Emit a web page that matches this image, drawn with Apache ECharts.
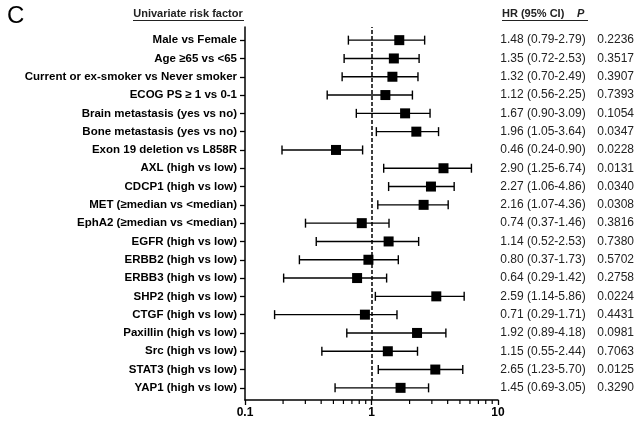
<!DOCTYPE html>
<html>
<head>
<meta charset="utf-8">
<script src="https://cdn.jsdelivr.net/npm/echarts@6/dist/echarts.min.js"></script>
<style>html,body{margin:0;padding:0;background:#fff}#c{width:637px;height:424px}</style>
</head>
<body>
<div id="c"></div>
<script>
const labels = ["Male vs Female","Age \u226565 vs <65","Current or ex-smoker vs Never smoker","ECOG PS \u2265 1 vs 0-1","Brain metastasis (yes vs no)","Bone metastasis (yes vs no)","Exon 19 deletion vs L858R","AXL (high vs low)","CDCP1 (high vs low)","MET (\u2265median vs <median)","EphA2 (\u2265median vs <median)","EGFR (high vs low)","ERBB2 (high vs low)","ERBB3 (high vs low)","SHP2 (high vs low)","CTGF (high vs low)","Paxillin (high vs low)","Src (high vs low)","STAT3 (high vs low)","YAP1 (high vs low)"];
const hrText = ["1.48 (0.79-2.79)","1.35 (0.72-2.53)","1.32 (0.70-2.49)","1.12 (0.56-2.25)","1.67 (0.90-3.09)","1.96 (1.05-3.64)","0.46 (0.24-0.90)","2.90 (1.25-6.74)","2.27 (1.06-4.86)","2.16 (1.07-4.36)","0.74 (0.37-1.46)","1.14 (0.52-2.53)","0.80 (0.37-1.73)","0.64 (0.29-1.42)","2.59 (1.14-5.86)","0.71 (0.29-1.71)","1.92 (0.89-4.18)","1.15 (0.55-2.44)","2.65 (1.23-5.70)","1.45 (0.69-3.05)"];
const pText = ["0.2236","0.3517","0.3907","0.7393","0.1054","0.0347","0.0228","0.0131","0.0340","0.0308","0.3816","0.7380","0.5702","0.2758","0.0224","0.4431","0.0981","0.7063","0.0125","0.3290"];
// plotted positions as drawn in the figure
const hrPlot = [1.69,1.53,1.49,1.31,1.88,2.31,0.53,3.80,3.02,2.64,0.85,1.39,0.96,0.78,3.33,0.90,2.34,1.37,3.27,1.73];
const ciLow  = [0.665,0.615,0.593,0.451,0.769,1.11,0.197,1.27,1.39,1.14,0.303,0.369,0.271,0.203,1.09,0.172,0.646,0.409,1.15,0.521];
const ciHigh = [2.69,2.43,2.38,2.15,2.97,3.47,0.863,6.34,4.62,4.14,1.40,2.41,1.66,1.34,5.55,1.62,3.97,2.36,5.41,2.89];
const minorTicks = [0.2,0.3,0.4,0.5,0.6,0.7,0.8,0.9,2,3,4,5,6,7,8,9];
const xTickLabels = {0.1:"0.1",1:"1",10:"10"};

const chart = echarts.init(document.getElementById('c'));
const FONT = '"Liberation Sans", Arial, sans-serif';
const rows = labels.map((l,i)=>[ciLow[i], ciHigh[i], hrPlot[i], i]);

chart.setOption({
  animation:false,
  backgroundColor:'#fff',
  grid:[
    {left:245, width:253, top:27, bottom:24},
    {left:245, width:253, top:31, height:366}
  ],
  xAxis:[
    {gridIndex:0, type:'log', logBase:10, min:0.1, max:10, interval:1,
     axisLine:{lineStyle:{color:'#000', width:1.5}},
     axisTick:{show:true, length:5, lineStyle:{color:'#000', width:1.3}},
     axisLabel:{margin:7, color:'#000', fontWeight:'bold', fontSize:12, fontFamily:FONT,
       formatter:v=>xTickLabels[+v.toPrecision(3)] || ''},
     splitLine:{show:false}},
    {gridIndex:1, type:'log', logBase:10, min:0.1, max:10, show:false}
  ],
  yAxis:[
    {gridIndex:0, type:'value', min:0, max:1, axisLine:{show:true, lineStyle:{color:'#000', width:1.5}},
     axisTick:{show:false}, axisLabel:{show:false}, splitLine:{show:false}},
    {gridIndex:1, type:'category', data:labels, inverse:true,
     axisLine:{show:false},
     axisTick:{show:true, alignWithLabel:true, length:5, lineStyle:{color:'#000', width:1.3}},
     axisLabel:{margin:8, color:'#000', fontWeight:'bold', fontSize:11.5, fontFamily:FONT}},
    {gridIndex:1, type:'category', data:hrText, inverse:true, position:'right', offset:0,
     axisLine:{show:false}, axisTick:{show:false},
     axisLabel:{margin:4, color:'#222', fontSize:12, fontFamily:FONT}},
    {gridIndex:1, type:'category', data:pText, inverse:true, position:'right', offset:97,
     axisLine:{show:false}, axisTick:{show:false},
     axisLabel:{margin:4, color:'#222', fontSize:12, fontFamily:FONT}}
  ],
  series:[
    {type:'custom', xAxisIndex:0, yAxisIndex:0, clip:false, silent:true,
     data:minorTicks.map(v=>[v]),
     encode:{x:0},
     renderItem:(params, api)=>{
       const cs = params.coordSys;
       const x = api.coord([api.value(0), 0])[0];
       const y0 = cs.y + cs.height;
       return {type:'line', shape:{x1:x, y1:y0, x2:x, y2:y0+4}, style:{stroke:'#000', lineWidth:1.2}};
     },
     markLine:{silent:true, symbol:'none', label:{show:false},
       lineStyle:{type:[4,2], color:'#000', width:1.5},
       data:[{xAxis:1}]}
    },
    {type:'custom', xAxisIndex:1, yAxisIndex:1, clip:false, silent:true,
     data:rows, encode:{x:[0,1,2], y:3},
     renderItem:(params, api)=>{
       const r = api.value(3);
       const pl = api.coord([api.value(0), r]);
       const ph = api.coord([api.value(1), r]);
       const pm = api.coord([api.value(2), r]);
       const y = pl[1];
       const st = {stroke:'#000', lineWidth:1.4};
       return {type:'group', children:[
         {type:'line', shape:{x1:pl[0], y1:y, x2:ph[0], y2:y}, style:st},
         {type:'line', shape:{x1:pl[0], y1:y-4.5, x2:pl[0], y2:y+4.5}, style:st},
         {type:'line', shape:{x1:ph[0], y1:y-4.5, x2:ph[0], y2:y+4.5}, style:st},
         {type:'rect', shape:{x:pm[0]-5, y:y-5, width:10, height:10}, style:{fill:'#000'}}
       ]};
     }
    }
  ],
  graphic:[
    {type:'text', left:7, top:4, style:{text:'C', font:'normal 24px '+FONT, fill:'#000'}},
    {type:'text', x:188, y:14, style:{text:'Univariate risk factor', font:'bold 11px '+FONT, fill:'#222', align:'center', verticalAlign:'middle'}},
    {type:'line', shape:{x1:133, y1:20.5, x2:244, y2:20.5}, style:{stroke:'#222', lineWidth:1}},
    {type:'text', x:502, y:14, style:{text:'HR (95% CI)', font:'bold 11px '+FONT, fill:'#222', verticalAlign:'middle'}},
    {type:'text', x:577, y:14, style:{text:'P', font:'italic bold 11px '+FONT, fill:'#222', verticalAlign:'middle'}},
    {type:'line', shape:{x1:502, y1:20.5, x2:588, y2:20.5}, style:{stroke:'#222', lineWidth:1}}
  ]
});
</script>
</body>
</html>
